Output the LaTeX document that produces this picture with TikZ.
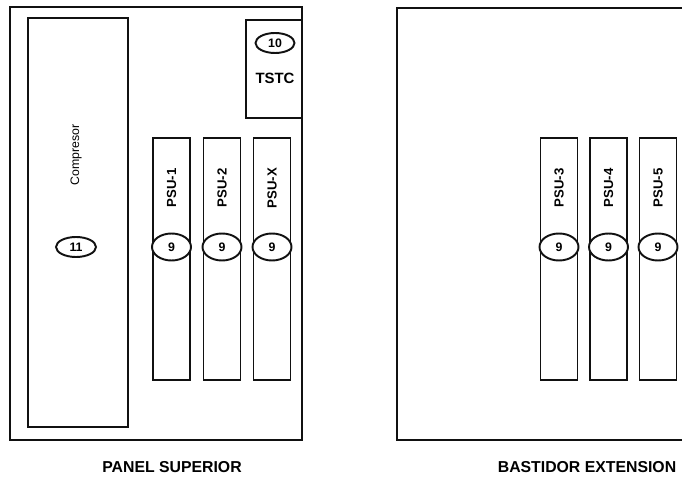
\documentclass[tikz,border=0pt]{standalone}
\usepackage{fontspec}
\setmainfont{Liberation Sans}
\usepackage{xcolor}
\usepackage{tikz}
\usetikzlibrary{shapes.geometric}
\definecolor{RKInk}{HTML}{111111}

\begin{document}
\begin{tikzpicture}[x=0.02cm,y=-0.02cm,
  panelbox/.style={draw=RKInk,line width=0.9pt,inner sep=0},
  unitbox/.style={draw=RKInk,line width=1.1pt,inner sep=0},
  psubox/.style={unitbox,minimum width=0.74cm,minimum height=4.84cm},
  tag/.style={ellipse,draw=RKInk,line width=1.1pt,fill=white,inner sep=0,font=\bfseries\fontsize{7}{8}\selectfont},
  psulabel/.style={rotate=90,font=\bfseries\fontsize{7.5}{8}\selectfont},
  caption/.style={font=\bfseries\fontsize{9}{10}\selectfont}]
\path[use as bounding box] (0,0) rectangle (682,479);
\node[panelbox,minimum width=5.84cm,minimum height=8.66cm] (panelSup) at (156,223.5) {};
\node[panelbox,minimum width=6.20cm,minimum height=8.64cm] (panelExt) at (552,224) {};
\node[unitbox,minimum width=2.00cm,minimum height=8.18cm] (compresor) at (78,222.5) {};
\node[unitbox,minimum width=1.12cm,minimum height=1.96cm] (tstc) at (274,69) {};
\node[psubox] (psu1) at (171.5,259) {};
\node[psubox] (psu2) at (222,259) {};
\node[psubox] (psuX) at (272,259) {};
\node[psubox] (psu3) at (559,259) {};
\node[psubox] (psu4) at (608.5,259) {};
\node[psubox] (psu5) at (658,259) {};
\node[rotate=90,font=\fontsize{7}{8}\selectfont] (compresorTxt) at (76,155) {Compresor};
\node[tag,minimum width=0.80cm,minimum height=0.40cm] (tag11) at (76,247) {11};
\node[tag,minimum width=0.78cm,minimum height=0.40cm] (tag10) at (275,43) {10};
\node[font=\bfseries\fontsize{8.5}{9}\selectfont] (tstcTxt) at (275,78) {TSTC};
\node[psulabel] (psu1Txt) at (171.5,188) {PSU-1};
\node[psulabel] (psu2Txt) at (222,188) {PSU-2};
\node[psulabel] (psuXTxt) at (272,188) {PSU-X};
\node[psulabel] (psu3Txt) at (559,188) {PSU-3};
\node[psulabel] (psu4Txt) at (608.5,188) {PSU-4};
\node[psulabel] (psu5Txt) at (658,188) {PSU-5};
\node[tag,minimum width=0.78cm,minimum height=0.54cm] (tag9a) at (171.5,247) {9};
\node[tag,minimum width=0.78cm,minimum height=0.54cm] (tag9b) at (222,247) {9};
\node[tag,minimum width=0.78cm,minimum height=0.54cm] (tag9c) at (272,247) {9};
\node[tag,minimum width=0.78cm,minimum height=0.54cm] (tag9d) at (559,247) {9};
\node[tag,minimum width=0.78cm,minimum height=0.54cm] (tag9e) at (608.5,247) {9};
\node[tag,minimum width=0.78cm,minimum height=0.54cm] (tag9f) at (658,247) {9};
\node[caption] (capSup) at (172,467) {PANEL SUPERIOR};
\node[caption] (capExt) at (587,467) {BASTIDOR EXTENSION};
\end{tikzpicture}
\end{document}
